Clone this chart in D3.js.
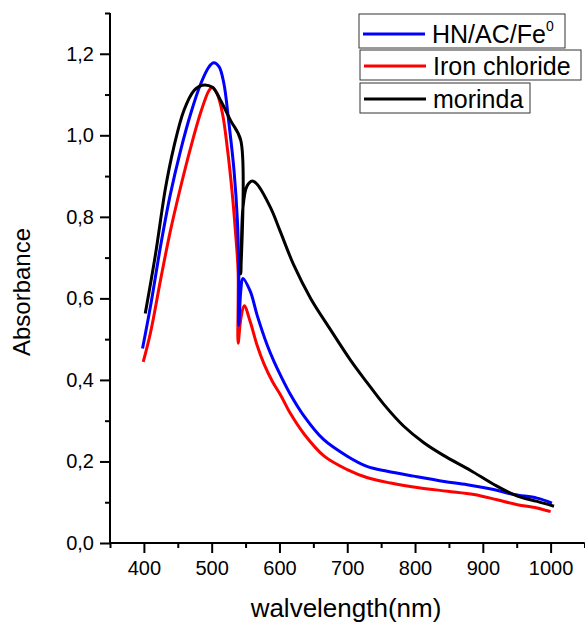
<!DOCTYPE html>
<html>
<head>
<meta charset="utf-8">
<script src="https://cdn.jsdelivr.net/npm/d3@7"></script>
<style>
  body { margin: 0; background: #fff; }
  svg { display: block; font-family: Arial, "Liberation Sans", sans-serif; }
</style>
</head>
<body>
<div id="graph"></div>
<script>
// spectra
const seriesNames = ["HN/AC/Fe", "Iron chloride", "morinda"];
const seriesColors = ["#0000ff", "#ff0000", "#000000"];

const blueWl = [398, 410, 425, 439, 454, 469, 484, 496, 503, 511, 518, 525, 533, 538, 540, 540, 543, 546, 557, 567, 582, 592, 602, 616, 636, 665, 700, 729, 759, 798, 843, 877, 916, 946, 980, 1002];
const blueAbs = [0.477, 0.583, 0.732, 0.855, 0.962, 1.053, 1.127, 1.168, 1.178, 1.168, 1.127, 1.036, 0.913, 0.789, 0.666, 0.534, 0.62, 0.649, 0.617, 0.559, 0.485, 0.445, 0.41, 0.365, 0.312, 0.254, 0.213, 0.188, 0.176, 0.164, 0.151, 0.143, 0.131, 0.119, 0.110, 0.098];

const redWl = [399, 410, 425, 439, 454, 469, 484, 496, 501, 508, 516, 523, 530, 535, 539, 539, 543, 548, 557, 567, 577, 590, 602, 616, 636, 666, 700, 730, 764, 808, 848, 887, 921, 951, 980, 1000];
const redAbs = [0.444, 0.518, 0.649, 0.765, 0.872, 0.970, 1.057, 1.110, 1.118, 1.102, 1.053, 0.970, 0.863, 0.765, 0.666, 0.490, 0.55, 0.582, 0.542, 0.485, 0.44, 0.395, 0.362, 0.318, 0.268, 0.213, 0.180, 0.160, 0.147, 0.135, 0.127, 0.119, 0.106, 0.094, 0.086, 0.077];

const blackWl = [402, 417, 432, 444, 459, 474, 486, 501, 513, 528, 543, 543, 546, 552, 560, 567, 587, 601, 621, 646, 675, 705, 729, 754, 783, 813, 842, 882, 917, 951, 980, 1005];
const blackAbs = [0.563, 0.707, 0.872, 0.970, 1.061, 1.110, 1.123, 1.118, 1.086, 1.036, 0.987, 0.660, 0.82, 0.875, 0.888, 0.880, 0.822, 0.765, 0.682, 0.600, 0.524, 0.448, 0.394, 0.340, 0.287, 0.246, 0.215, 0.178, 0.143, 0.115, 0.102, 0.090];

const xTicks = [400, 500, 600, 700, 800, 900, 1000];
const xMinor = [350, 450, 550, 650, 750, 850, 950, 1050];
const yTicks = [0, 0.2, 0.4, 0.6, 0.8, 1.0, 1.2];
const yMinor = [0.1, 0.3, 0.5, 0.7, 0.9, 1.1, 1.3];

const zip = (w, a) => w.map((d, i) => ({ wl: d, abs: a[i] }));
const series = [zip(blueWl, blueAbs), zip(redWl, redAbs), zip(blackWl, blackAbs)];

let width = 585, height = 624;

let svg = d3.select("#graph")
    .append("svg")
    .attr("width", width)
    .attr("height", height);

let x = d3.scaleLinear().domain([350, 1050]).range([110, 584.5]);
let y = d3.scaleLinear().domain([0, 1.3]).range([543, 13]);

const fmt = d => d.toFixed(1).replace(".", ",");

// x axis
let gx = svg.append("g").attr("transform", "translate(0,543)");
gx.call(d3.axisBottom(x).tickValues(xTicks).tickSize(10).tickPadding(8).tickFormat(d3.format("d")));
gx.append("g").call(d3.axisBottom(x).tickValues(xMinor).tickSize(5).tickFormat(""));

// y axis
let gy = svg.append("g").attr("transform", "translate(110,0)");
gy.call(d3.axisLeft(y).tickValues(yTicks).tickSize(10).tickPadding(6).tickFormat(fmt));
gy.append("g").call(d3.axisLeft(y).tickValues(yMinor).tickSize(5).tickFormat(""));

svg.selectAll(".domain").attr("stroke", "#000").attr("stroke-width", 2);
svg.selectAll(".tick line").attr("stroke", "#000").attr("stroke-width", 2);
svg.selectAll(".tick text").attr("font-size", 20).attr("fill", "#000")
    .attr("font-family", "Arial, 'Liberation Sans', sans-serif");
// plain axis lines, no outer end ticks
gx.selectAll(".domain").attr("d", "M" + x.range()[0] + ",0H" + x.range()[1]);
gy.selectAll(".domain").attr("d", "M0," + y.range()[0] + "V" + y.range()[1]);

// curves
let line = d3.line()
    .x(d => x(d.wl))
    .y(d => y(d.abs))
    .curve(d3.curveCatmullRom.alpha(0.5));

[1, 0, 2].forEach(i => {
    svg.append("path")
        .datum(series[i])
        .attr("fill", "none")
        .attr("stroke", seriesColors[i])
        .attr("stroke-width", 3)
        .attr("stroke-linejoin", "round")
        .attr("d", line);
});

// axis titles
svg.append("text")
    .attr("x", 346)
    .attr("y", 617)
    .attr("text-anchor", "middle")
    .attr("font-size", 26)
    .text("walvelength(nm)");

svg.append("text")
    .attr("transform", "translate(30,292) rotate(-90)")
    .attr("text-anchor", "middle")
    .attr("font-size", 24)
    .text("Absorbance");

// legend: three separate boxes
const legendBoxes = [
    { x: 359, y: 14, w: 206, h: 34 },
    { x: 360, y: 50, w: 221, h: 30 },
    { x: 360, y: 83, w: 170, h: 30 }
];

legendBoxes.forEach((b, i) => {
    let g = svg.append("g");
    g.append("rect")
        .attr("x", b.x).attr("y", b.y)
        .attr("width", b.w).attr("height", b.h)
        .attr("fill", "#fff")
        .attr("stroke", "#333")
        .attr("stroke-width", 1);
    let ly = b.y + b.h / 2 + (i == 0 ? 3 : 1);
    g.append("line")
        .attr("x1", b.x + 4).attr("x2", b.x + 66)
        .attr("y1", ly).attr("y2", ly)
        .attr("stroke", seriesColors[i])
        .attr("stroke-width", 3);
    let t = g.append("text")
        .attr("x", b.x + 73)
        .attr("y", ly + 9)
        .attr("font-size", 25)
        .text(seriesNames[i]);
    if (i == 0) {
        t.append("tspan").attr("dy", -12).attr("font-size", 14).text("0");
    }
});
</script>
</body>
</html>
